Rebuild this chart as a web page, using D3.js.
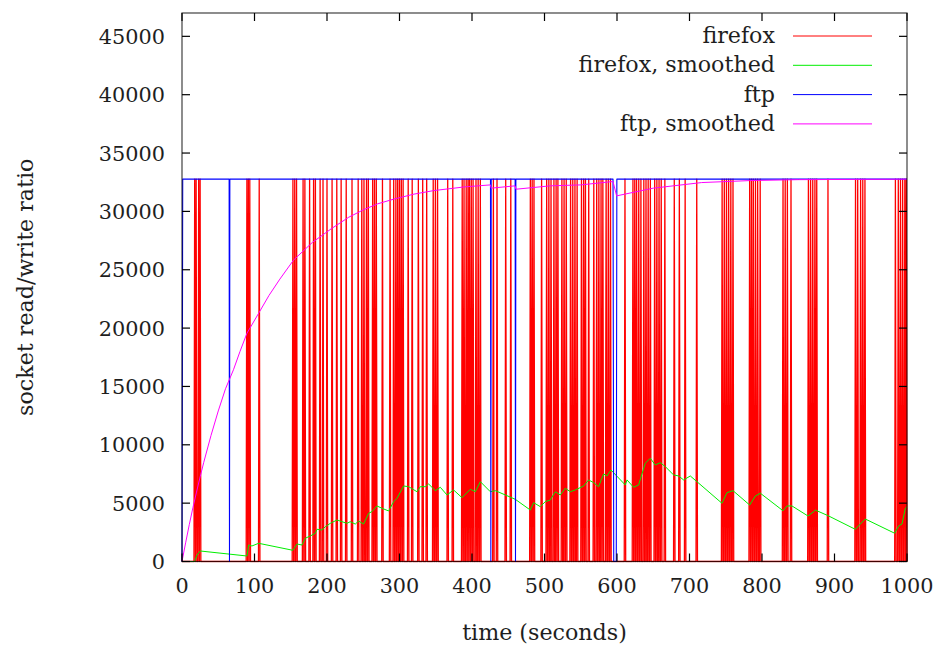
<!DOCTYPE html>
<html>
<head>
<meta charset="utf-8">
<script src="https://cdn.jsdelivr.net/npm/d3@7"></script>
<style>
  html, body { margin: 0; padding: 0; background: #fff; }
  svg { display: block; }
  text { font-family: "DejaVu Serif", "Liberation Serif", serif; fill: #1e1e1e; }
</style>
</head>
<body>
<svg id="chart" width="947" height="652"></svg>
<script>
// ---- data ---------------------------------------------------------------
const PEAK = 32767;

// times (s) at which the firefox socket read/write ratio hit the ceiling;
// every other sample sits at 0
const firefoxSpikes = [
  17.5, 19.5, 23, 25,
  89.5, 91.5, 93.5, 106.5,
  153, 155.5, 158, 167, 169.5, 176, 181.5, 184, 190.5, 194.5, 200, 207,
  213.5, 219.5, 226.5, 234.5, 243, 248, 251,
  254.5, 257, 263, 265.5, 268, 276.5, 287, 292, 295, 297.5, 300, 302.5, 305,
  312, 317.5, 326, 332, 337.5, 346.5, 349.5, 352.5,
  366.5, 373.5, 386.5, 389, 392, 394.5, 396.5, 399, 401.5, 405.5, 408.5, 411.5,
  429.5, 434.5, 446.5, 453.5,
  480.5, 483, 485.5, 496, 503, 506, 509, 513, 516, 518.5, 524, 527, 530,
  536, 539, 542, 545, 551, 554, 556.5, 561, 568, 572, 575, 578, 580.5,
  585, 588, 591,
  611, 622, 624.5, 627, 630, 633, 637, 640, 643, 646, 652, 655, 658, 661,
  666, 679, 686, 694, 710,
  745, 748, 751, 754, 757, 760,
  783, 785.5, 788, 791, 794, 797.5,
  829, 832, 835, 840,
  864, 867, 870, 873, 875.5, 891,
  929, 932, 936, 939, 942,
  984, 988, 991, 994, 997, 999
];

const firefoxSmoothedT = [0, 17.4, 20.7, 25.2, 89.6, 91.9, 96.5, 105.7, 153, 158.6, 165.5, 170, 177, 183.9, 186.2, 193, 197.7, 204.6, 213.8, 220.7, 227.6, 232, 239, 243.6, 250.5, 257.4, 262, 268.9, 275.9, 285, 292, 296.6, 305.7, 312.6, 324.1, 328.7, 335.6, 340.2, 349.4, 356.3, 365.5, 374.6, 386.2, 397.7, 404.6, 411.5, 425.3, 432.2, 446, 459.7, 480.4, 485, 494.2, 501.1, 508, 514.9, 521.8, 528.7, 535.6, 542.5, 554, 560.8, 567.7, 574.6, 581.5, 586.2, 591.7, 611.4, 613.8, 622.9, 629.8, 639, 645.9, 652.8, 659.7, 666.6, 678, 685, 691.9, 701.1, 710.3, 744.8, 751.7, 760, 783, 790.8, 797.7, 829, 834.5, 841.4, 863.4, 871.2, 873.5, 891, 928.7, 935.6, 942.5, 983, 988.4, 993.1, 997.7, 1000];
const firefoxSmoothedV = [0, 0, 557, 900, 470, 1410, 1330, 1560, 960, 1500, 1410, 1990, 2190, 2420, 2760, 2700, 2980, 3270, 3560, 3410, 3270, 3410, 3210, 3470, 3210, 4130, 4270, 4760, 4560, 4330, 5130, 5420, 6470, 6410, 5980, 6410, 6410, 6640, 6070, 6360, 5700, 6130, 5470, 6190, 5980, 6840, 5980, 6070, 5700, 5330, 4410, 5040, 4700, 5130, 5270, 5980, 5700, 6270, 5980, 6130, 6470, 6990, 6760, 6410, 7500, 7330, 7840, 6560, 6990, 6360, 6560, 8420, 8850, 8270, 8470, 8130, 7420, 7330, 6990, 7330, 6840, 4990, 5900, 6070, 4840, 5610, 5850, 4350, 4760, 4760, 3900, 4270, 4410, 3930, 2760, 3210, 3640, 2420, 3040, 3210, 4560, 4700];

const ftpT = [0, 1, 65, 65.5, 66, 425.5, 426, 426.5, 459.5, 460, 460.5, 594.5, 595.5, 599, 599.8, 1000];
const ftpV = [0, PEAK, PEAK, 0, PEAK, PEAK, 0, PEAK, PEAK, 0, PEAK, PEAK, 0, 0, PEAK, PEAK];

const ftpSmoothedT = [0, 5, 10, 15, 20, 25, 30, 40, 50, 60, 71, 80, 89.6, 105.7, 120, 135, 154, 180, 207, 230, 250, 270, 292, 320, 347, 390, 425.5, 426.5, 459.5, 460.5, 508, 550, 594.5, 599.5, 650, 716.7, 783, 850, 1000];
const ftpSmoothedV = [0, 1600, 3150, 4600, 5950, 7250, 8500, 10800, 12900, 14800, 16430, 18000, 19560, 21270, 22800, 24200, 25840, 27350, 28560, 29500, 30130, 30650, 31050, 31480, 31780, 32100, 32270, 31990, 32190, 31900, 32190, 32270, 32560, 31330, 31990, 32470, 32640, 32720, 32760];

const xTicks = [0, 100, 200, 300, 400, 500, 600, 700, 800, 900, 1000];
const yTicks = [0, 5000, 10000, 15000, 20000, 25000, 30000, 35000, 40000, 45000];

const seriesNames = ["firefox", "firefox, smoothed", "ftp", "ftp, smoothed"];
const seriesColors = ["#ff0000", "#00ee00", "#0000ff", "#ff00ff"];

// ---- layout -------------------------------------------------------------
const svg = d3.select("#chart");
const plotLeft = 182, plotRight = 907, plotTop = 13, plotBottom = 561.5;

const x = d3.scaleLinear().domain([0, 1000]).range([plotLeft, plotRight]);
const y = d3.scaleLinear().domain([0, 47000]).range([plotBottom, plotTop]);

svg.append("defs").append("clipPath").attr("id", "plotClip")
  .append("rect").attr("x", plotLeft - 1).attr("y", plotTop)
  .attr("width", plotRight - plotLeft + 2).attr("height", plotBottom - plotTop + 1);

// ---- series -------------------------------------------------------------
// each ceiling sample sits between two zero samples one second away
const firefoxPoints = [[0, 0]];
firefoxSpikes.forEach(s => {
  firefoxPoints.push([s - 1, 0], [s, PEAK], [s + 1, 0]);
});
firefoxPoints.push([1000, 0]);

const zip = (ts, vs) => ts.map((t, i) => [t, vs[i]]);
const series = [
  firefoxPoints,
  zip(firefoxSmoothedT, firefoxSmoothedV),
  zip(ftpT, ftpV),
  zip(ftpSmoothedT, ftpSmoothedV)
];
const widths = [1.3, 1, 1.1, 1];

const line = d3.line().x(d => x(d[0])).y(d => y(d[1]));
const plot = svg.append("g").attr("clip-path", "url(#plotClip)");
series.forEach((pts, i) => {
  plot.append("path")
    .datum(pts)
    .attr("fill", "none")
    .attr("stroke", seriesColors[i])
    .attr("stroke-width", widths[i])
    .attr("stroke-linejoin", "round")
    .attr("d", line);
});

// ---- frame and ticks ----------------------------------------------------
const frame = svg.append("g").attr("stroke", "#000").attr("stroke-width", 1.2);
frame.append("rect")
  .attr("x", plotLeft).attr("y", plotTop)
  .attr("width", plotRight - plotLeft).attr("height", plotBottom - plotTop)
  .attr("fill", "none").attr("stroke-opacity", 0.75);

const T = 8;
xTicks.forEach(v => {
  frame.append("line").attr("x1", x(v)).attr("x2", x(v)).attr("y1", plotBottom).attr("y2", plotBottom - T);
  frame.append("line").attr("x1", x(v)).attr("x2", x(v)).attr("y1", plotTop).attr("y2", plotTop + T);
});
yTicks.forEach(v => {
  frame.append("line").attr("x1", plotLeft).attr("x2", plotLeft + T).attr("y1", y(v)).attr("y2", y(v));
  frame.append("line").attr("x1", plotRight).attr("x2", plotRight - T).attr("y1", y(v)).attr("y2", y(v));
});

// tick labels
const tickFont = 20.8;
svg.append("g").selectAll("text").data(xTicks).join("text")
  .attr("x", d => x(d)).attr("y", 593)
  .attr("text-anchor", "middle").attr("font-size", tickFont)
  .text(d => d);
svg.append("g").selectAll("text").data(yTicks).join("text")
  .attr("x", 165).attr("y", d => y(d) + 7.5)
  .attr("text-anchor", "end").attr("font-size", tickFont)
  .text(d => d);

// axis titles
const labelFont = 22.2;
svg.append("text")
  .attr("x", (plotLeft + plotRight) / 2).attr("y", 640)
  .attr("text-anchor", "middle").attr("font-size", labelFont)
  .text("time (seconds)");
svg.append("text")
  .attr("transform", `translate(33,${(plotTop + plotBottom) / 2}) rotate(-90)`)
  .attr("text-anchor", "middle").attr("font-size", labelFont)
  .text("socket read/write ratio");

// ---- legend -------------------------------------------------------------
const legend = svg.append("g");
seriesNames.forEach((name, i) => {
  const ry = 36 + i * 29.3;
  legend.append("text")
    .attr("x", 775).attr("y", ry + 7)
    .attr("text-anchor", "end").attr("font-size", labelFont)
    .text(name);
  legend.append("line")
    .attr("x1", 793).attr("x2", 872).attr("y1", ry).attr("y2", ry)
    .attr("stroke", seriesColors[i]).attr("stroke-width", 1);
});
</script>
</body>
</html>
